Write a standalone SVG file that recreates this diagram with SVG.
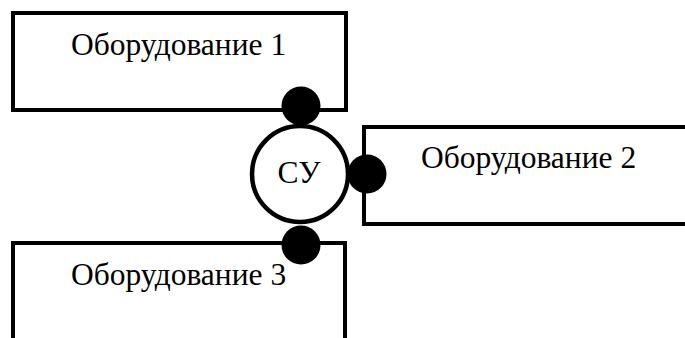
<svg xmlns="http://www.w3.org/2000/svg" width="685" height="338" viewBox="0 0 685 338">
<style>
.box{fill:#fff;stroke:#000;stroke-width:4}
.hub{fill:#fff;stroke:#000;stroke-width:4.5}
.dot{fill:#000}
.lbl{font-family:"Liberation Serif","Times New Roman",serif;font-size:31.5px;fill:#000}
</style>
<rect width="685" height="338" fill="#fff"/>
<g id="eq1">
<rect class="box" x="13" y="13" width="333" height="97"/>
<text class="lbl" x="71" y="55">Оборудование 1</text>
</g>
<g id="eq2">
<rect class="box" x="364" y="127" width="340" height="97"/>
<text class="lbl" x="421" y="168">Оборудование 2</text>
</g>
<g id="eq3">
<rect class="box" x="13" y="243" width="332" height="110"/>
<text class="lbl" x="71" y="285">Оборудование 3</text>
</g>
<g id="su">
<circle class="hub" cx="300" cy="174" r="48"/>
<text class="lbl" x="299" y="183" text-anchor="middle">СУ</text>
</g>
<g id="connectors">
<circle class="dot" cx="301" cy="106" r="19.5"/>
<circle class="dot" cx="367" cy="174" r="19.5"/>
<circle class="dot" cx="301" cy="245" r="19.5"/>
</g>
</svg>
